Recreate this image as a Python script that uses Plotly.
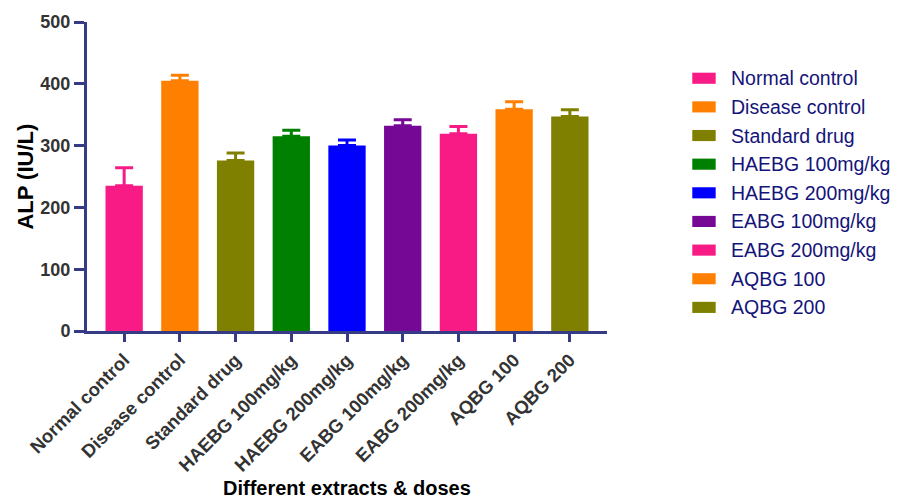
import plotly.graph_objects as go

# Group labels, mean ALP values (IU/L) and SEM (upper error bars)
groups = ["Normal control", "Disease control", "Standard drug",
          "HAEBG 100mg/kg", "HAEBG 200mg/kg", "EABG 100mg/kg",
          "EABG 200mg/kg", "AQBG 100", "AQBG 200"]
alp_mean = [235, 405, 276, 315, 300, 332, 319, 359, 347]
alp_sem = [29, 9, 12, 10, 9, 10, 12, 12, 11]
bar_colors = ["#F81A85", "#FF8000", "#808000", "#008000", "#0000FF",
              "#760896", "#F81A85", "#FF8000", "#808000"]
y_ticks = [0, 100, 200, 300, 400, 500]

AXIS = "#363B85"
FONT = "Liberation Sans, Arial, sans-serif"

fig = go.Figure()
for i, (g, v, e, c) in enumerate(zip(groups, alp_mean, alp_sem, bar_colors)):
    fig.add_trace(go.Bar(
        x=[i], y=[v], width=0.67, marker=dict(color=c, line=dict(width=0)),
        error_y=dict(type="data", symmetric=False, array=[e], arrayminus=[0],
                     color=c, thickness=3, width=9),
        showlegend=False, name=g,
    ))

# Legend drawn as colour patches and labels to the right of the plot
row0, step = 0.818, 0.0927
for i, (g, c) in enumerate(zip(groups, bar_colors)):
    yc = row0 - i * step
    fig.add_shape(type="rect", xref="paper", yref="paper",
                  x0=1.164, x1=1.209, y0=yc - 0.018, y1=yc + 0.018,
                  fillcolor=c, line=dict(width=0))
    fig.add_annotation(xref="paper", yref="paper", x=1.235, y=yc,
                       xanchor="left", yanchor="middle", showarrow=False,
                       text=g, font=dict(family=FONT, size=19.5, color="#14147A"))

fig.add_annotation(xref="paper", yref="paper", x=-0.119, y=0.5,
                   textangle=-90, showarrow=False, xanchor="center",
                   yanchor="middle", text="ALP (IU/L)",
                   font=dict(family=FONT, size=22, color="#000000", weight="bold"))
fig.add_annotation(xref="paper", yref="paper", x=0.5, y=-0.508,
                   showarrow=False, xanchor="center", yanchor="middle",
                   text="Different extracts & doses",
                   font=dict(family=FONT, size=20, color="#000000", weight="bold"))

fig.update_layout(
    width=901, height=504,
    margin=dict(l=87, r=294, t=16, b=173),
    plot_bgcolor="white", paper_bgcolor="white",
    barmode="overlay", showlegend=False,
    font=dict(family=FONT),
    xaxis=dict(
        range=[-0.667, 8.667], tickmode="array",
        tickvals=list(range(len(groups))), ticktext=groups,
        tickangle=-45, ticks="outside", ticklen=8, tickwidth=3, tickcolor=AXIS,
        showline=True, linewidth=3, linecolor=AXIS, showgrid=False,
        zeroline=False,
        tickfont=dict(family=FONT, size=18.5, color="#333333", weight="bold"),
    ),
    yaxis=dict(
        range=[0, 500], tickmode="array", tickvals=y_ticks,
        ticks="outside", ticklen=10, tickwidth=3, tickcolor=AXIS,
        showline=True, linewidth=3, linecolor=AXIS, showgrid=False,
        zeroline=False,
        tickfont=dict(family=FONT, size=18, color="#333333", weight="bold"),
    ),
)

fig.write_html("out.html")
